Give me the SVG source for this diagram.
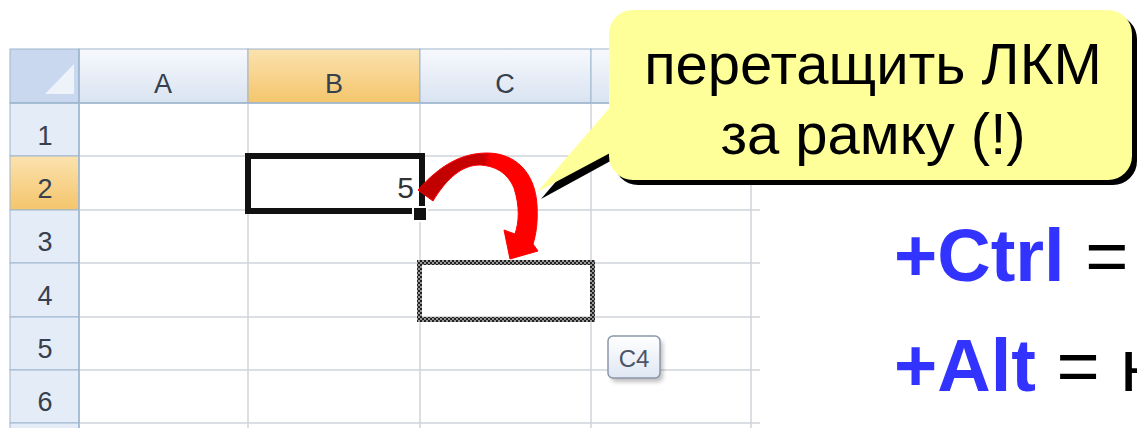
<svg xmlns="http://www.w3.org/2000/svg" width="1137" height="428" viewBox="0 0 1137 428">
<style>
.hdr{fill:url(#hdrGrad);stroke:#9eb6ce;stroke-width:1}
.hdrSel{fill:url(#selGrad);stroke:#9eb6ce;stroke-width:1}
.rowhdr{fill:#e4ecf7;stroke:#9eb6ce;stroke-width:1}
.grid{stroke:#d0d5dc;stroke-width:1.5;fill:none}
.lbl{font-family:"Liberation Sans",Arial,sans-serif;font-size:27px;fill:#36404e;text-anchor:middle}
.cell{font-family:"Liberation Sans",Arial,sans-serif;font-size:30px;fill:#333}
.callout{font-family:"Liberation Sans",Arial,sans-serif;font-size:58px;fill:#000;text-anchor:middle}
.big{font-family:"Liberation Sans",Arial,sans-serif;font-size:74px;fill:#000}
.blue{fill:#3333ff;font-weight:bold}
</style>
<defs>
<linearGradient id="hdrGrad" x1="0" y1="0" x2="0" y2="1">
<stop offset="0" stop-color="#f7f9fd"/><stop offset="1" stop-color="#d9e3f1"/>
</linearGradient>
<linearGradient id="selGrad" x1="0" y1="0" x2="0" y2="1">
<stop offset="0" stop-color="#fbe2ae"/><stop offset="1" stop-color="#f4c56c"/>
</linearGradient>
<linearGradient id="tipGrad" x1="0" y1="0" x2="0" y2="1">
<stop offset="0" stop-color="#ffffff"/><stop offset="1" stop-color="#dfe7f3"/>
</linearGradient>
<linearGradient id="arrowGrad" gradientUnits="userSpaceOnUse" x1="418" y1="0" x2="537" y2="0">
<stop offset="0" stop-color="#c00000"/><stop offset="0.55" stop-color="#c80000"/><stop offset="0.62" stop-color="#ff0000"/>
</linearGradient>
<pattern id="checker" width="4" height="4" patternUnits="userSpaceOnUse">
<rect width="4" height="4" fill="#9a9a9a"/>
<rect width="2" height="2" fill="#222"/>
<rect x="2" y="2" width="2" height="2" fill="#222"/>
</pattern>
<filter id="soft" x="-30%" y="-30%" width="160%" height="160%">
<feGaussianBlur stdDeviation="2"/>
</filter>
</defs>

<g id="sheet">
<rect x="0" y="0" width="1137" height="428" fill="#ffffff"/>
<rect x="79" y="103" width="681" height="325" fill="#ffffff"/>
<rect x="10" y="49" width="69" height="54" fill="#c9d8ee" stroke="#9eb6ce"/>
<polygon points="74,64 74,94 45,94" fill="#eef3fa"/>
<rect class="hdr" x="79" y="49" width="169" height="54"/>
<rect class="hdrSel" x="248" y="49" width="172" height="54"/>
<rect class="hdr" x="420" y="49" width="171" height="54"/>
<rect class="hdr" x="591" y="49" width="160" height="54"/>
<rect class="hdr" x="751" y="49" width="9" height="54"/>
<text class="lbl" x="163" y="93" font-size="28">A</text>
<text class="lbl" x="334" y="93" font-size="28">B</text>
<text class="lbl" x="505" y="93" font-size="28">C</text>
<rect class="rowhdr" x="10" y="103" width="69" height="53"/>
<rect class="hdrSel" x="10" y="156" width="69" height="54"/>
<rect class="rowhdr" x="10" y="210" width="69" height="53"/>
<rect class="rowhdr" x="10" y="263" width="69" height="54"/>
<rect class="rowhdr" x="10" y="317" width="69" height="53"/>
<rect class="rowhdr" x="10" y="370" width="69" height="53"/>
<rect class="rowhdr" x="10" y="423" width="69" height="10"/>
<text class="lbl" x="45" y="145">1</text>
<text class="lbl" x="45" y="198">2</text>
<text class="lbl" x="45" y="251">3</text>
<text class="lbl" x="45" y="305">4</text>
<text class="lbl" x="45" y="358">5</text>
<text class="lbl" x="45" y="411">6</text>
<path class="grid" d="M79 156H760M79 210H760M79 263H760M79 317H760M79 370H760M79 423H760M248 103V428M420 103V428M591 103V428M751 103V428"/>
<line x1="10" y1="103" x2="760" y2="103" stroke="#9eb6ce" stroke-width="1.5"/>
<line x1="79" y1="49" x2="79" y2="428" stroke="#9eb6ce" stroke-width="1.5"/>
</g>

<g id="cellB2">
<rect x="248" y="156" width="174" height="55" fill="none" stroke="#111" stroke-width="6"/>
<rect x="412" y="206" width="16" height="16" fill="#fff"/>
<rect x="414" y="208" width="12" height="12" fill="#111"/>
<text class="cell" x="414" y="198" text-anchor="end">5</text>
</g>

<g id="dropC4">
<path d="M417 260H595V322H417Z M422 265V317H590V265Z" fill="url(#checker)" fill-rule="evenodd"/>
</g>

<g id="tooltip">
<rect x="611" y="340" width="52" height="42" rx="5" fill="#000" opacity="0.25" filter="url(#soft)"/>
<rect x="608" y="336" width="52" height="42" rx="5" fill="url(#tipGrad)" stroke="#8a96a8" stroke-width="1.5"/>
<text x="634" y="367" font-family="'Liberation Sans',Arial,sans-serif" font-size="24" fill="#4a5566" text-anchor="middle">C4</text>
</g>

<g id="callout">
<rect x="614" y="15" width="523" height="170" rx="24" fill="#000"/>
<polygon points="616,111 541,199 616,158" fill="#000"/>
<rect x="609" y="10" width="523" height="170" rx="24" fill="#ffff99"/>
<polygon points="612,105 537,192 612,152" fill="#ffff99"/>
<text class="callout" x="873" y="84">перетащить ЛКМ</text>
<text class="callout" x="873" y="154">за рамку (!)</text>
</g>

<g id="connectors">
<path d="M418 190C440 165 462 153 487 153C515 153 535 172 537 205C538 222 536 235 533 244L538 251L510 259L504 230L515 234C519 222 520 207 514 188C507 172 495 166 480 165C462 165 447 178 433 201Z" fill="url(#arrowGrad)" stroke="#ff0000" stroke-width="1"/>
</g>

<g id="notes">
<text class="big" x="894" y="281"><tspan class="blue">+Ctrl</tspan> =</text>
<text class="big" x="894" y="391"><tspan class="blue">+Alt</tspan> = н</text>
</g>
</svg>
